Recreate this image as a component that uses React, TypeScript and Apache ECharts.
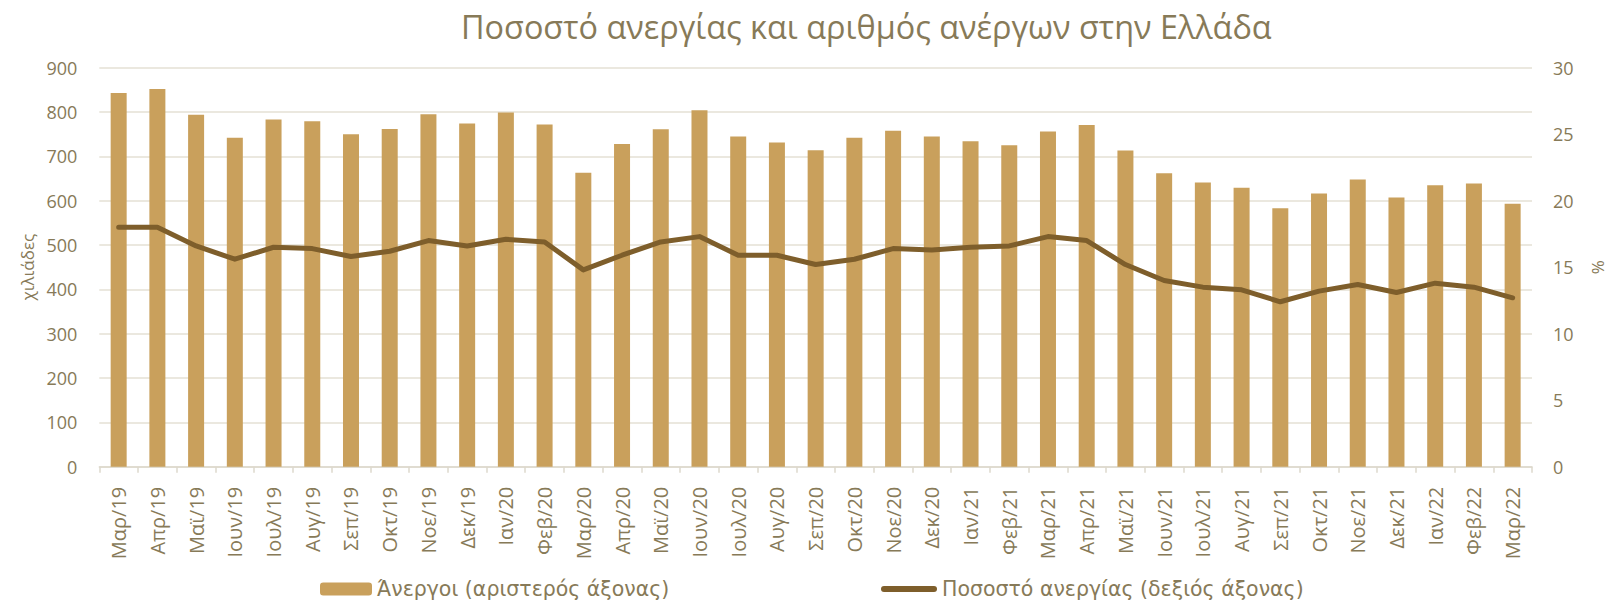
import React, { useEffect, useRef } from "react";
import * as echarts from "echarts";

const categories = [
  "Μαρ/19", "Απρ/19", "Μαϊ/19", "Ιουν/19", "Ιουλ/19", "Αυγ/19", "Σεπ/19", "Οκτ/19", "Νοε/19", "Δεκ/19",
  "Ιαν/20", "Φεβ/20", "Μαρ/20", "Απρ/20", "Μαϊ/20", "Ιουν/20", "Ιουλ/20", "Αυγ/20", "Σεπ/20", "Οκτ/20",
  "Νοε/20", "Δεκ/20", "Ιαν/21", "Φεβ/21", "Μαρ/21", "Απρ/21", "Μαϊ/21", "Ιουν/21", "Ιουλ/21", "Αυγ/21",
  "Σεπ/21", "Οκτ/21", "Νοε/21", "Δεκ/21", "Ιαν/22", "Φεβ/22", "Μαρ/22",
];

const unemployed = [
  843, 852, 794, 742, 783, 779, 750, 762, 795, 774,
  799, 772, 663, 728, 761, 804, 745, 731, 714, 742,
  758, 745, 734, 725, 756, 771, 713, 662, 641, 629,
  583, 616, 648, 607, 635, 639, 593,
];

const rate = [
  18.0, 18.0, 16.6, 15.6, 16.5, 16.4, 15.8, 16.2, 17.0, 16.6,
  17.1, 16.9, 14.8, 15.9, 16.9, 17.3, 15.9, 15.9, 15.2, 15.6,
  16.4, 16.3, 16.5, 16.6, 17.3, 17.0, 15.2, 14.0, 13.5, 13.3,
  12.4, 13.2, 13.7, 13.1, 13.8, 13.5, 12.7,
];

const leftTicks = { min: 0, max: 900, interval: 100 };
const rightTicks = { min: 0, max: 30, interval: 5 };

const seriesNames = ["Άνεργοι (αριστερός άξονας)", "Ποσοστό ανεργίας (δεξιός άξονας)"];
const titleText = "Ποσοστό ανεργίας και αριθμός ανέργων στην Ελλάδα";

const TEXT = "#877A58";
const FONT = "Open Sans";
const LEGEND_FONT = "DejaVu Sans";
const LINE_ICON = "path://M3,0 L53,0 A3,3 0 0 1 53,6 L3,6 A3,3 0 0 1 3,0 Z";

export default function App() {
  const ref = useRef<HTMLDivElement>(null);
  useEffect(() => {
    if (!ref.current) return;
    const chart = echarts.init(ref.current, undefined, { renderer: "svg" });
    chart.setOption({
      animation: false,
      textStyle: { fontFamily: FONT },
      title: {
        text: titleText,
        left: 456,
        top: 5,
        textStyle: { fontFamily: FONT, fontSize: 32.4, fontWeight: "normal", color: TEXT },
      },
      legend: [
        {
          data: [seriesNames[0]],
          left: 315,
          top: 572,
          itemWidth: 52,
          itemHeight: 13,
          textStyle: { fontFamily: LEGEND_FONT, fontSize: 20.5, lineHeight: 24, color: TEXT },
        },
        {
          data: [{ name: seriesNames[1], icon: LINE_ICON, itemStyle: { color: "#7E5E2B" } }],
          left: 876,
          top: 572,
          itemWidth: 56,
          itemHeight: 6,
          textStyle: { fontFamily: LEGEND_FONT, fontSize: 20.5, lineHeight: 24, color: TEXT },
        },
      ],
      grid: { left: 99.3, right: 75.7, top: 67.7, bottom: 138.3, containLabel: false },
      xAxis: {
        type: "category",
        data: categories,
        axisLine: { lineStyle: { color: "#DDD8CC", width: 1.5 } },
        axisTick: { show: true, length: 6, lineStyle: { color: "#DDD8CC", width: 1.5 } },
        axisLabel: { rotate: 90, interval: 0, fontSize: 20, color: TEXT, margin: 20, fontFamily: FONT },
        splitLine: { show: false },
      },
      yAxis: [
        {
          type: "value",
          min: leftTicks.min,
          max: leftTicks.max,
          interval: leftTicks.interval,
          name: "χιλιάδες",
          nameLocation: "middle",
          nameRotate: 90,
          nameGap: 61,
          nameTextStyle: { fontSize: 17, color: TEXT, fontFamily: FONT },
          axisLine: { show: false },
          axisTick: { show: false },
          axisLabel: { fontSize: 18, color: TEXT, margin: 22, fontFamily: FONT },
          splitLine: { lineStyle: { color: "#E5E0D5", width: 1.5 } },
        },
        {
          type: "value",
          position: "right",
          min: rightTicks.min,
          max: rightTicks.max,
          interval: rightTicks.interval,
          name: "%",
          nameLocation: "middle",
          nameRotate: 90,
          nameGap: 57,
          nameTextStyle: { fontSize: 17, color: TEXT, fontFamily: FONT },
          axisLine: { show: false },
          axisTick: { show: false },
          axisLabel: { fontSize: 18, color: TEXT, margin: 21, fontFamily: FONT },
          splitLine: { show: false },
        },
      ],
      series: [
        {
          name: seriesNames[0],
          type: "bar",
          data: unemployed,
          barWidth: 16,
          itemStyle: { color: "#C9A05C" },
          yAxisIndex: 0,
        },
        {
          name: seriesNames[1],
          type: "line",
          data: rate,
          yAxisIndex: 1,
          symbol: "none",
          lineStyle: { color: "#7E5E2B", width: 5, cap: "round", join: "round" },
          itemStyle: { color: "#7E5E2B" },
        },
      ],
    });
    return () => chart.dispose();
  }, []);
  return (
    <div
      ref={ref}
      style={{ position: "fixed", left: 0, top: 0, width: 1614, height: 605, background: "#fff" }}
    />
  );
}
